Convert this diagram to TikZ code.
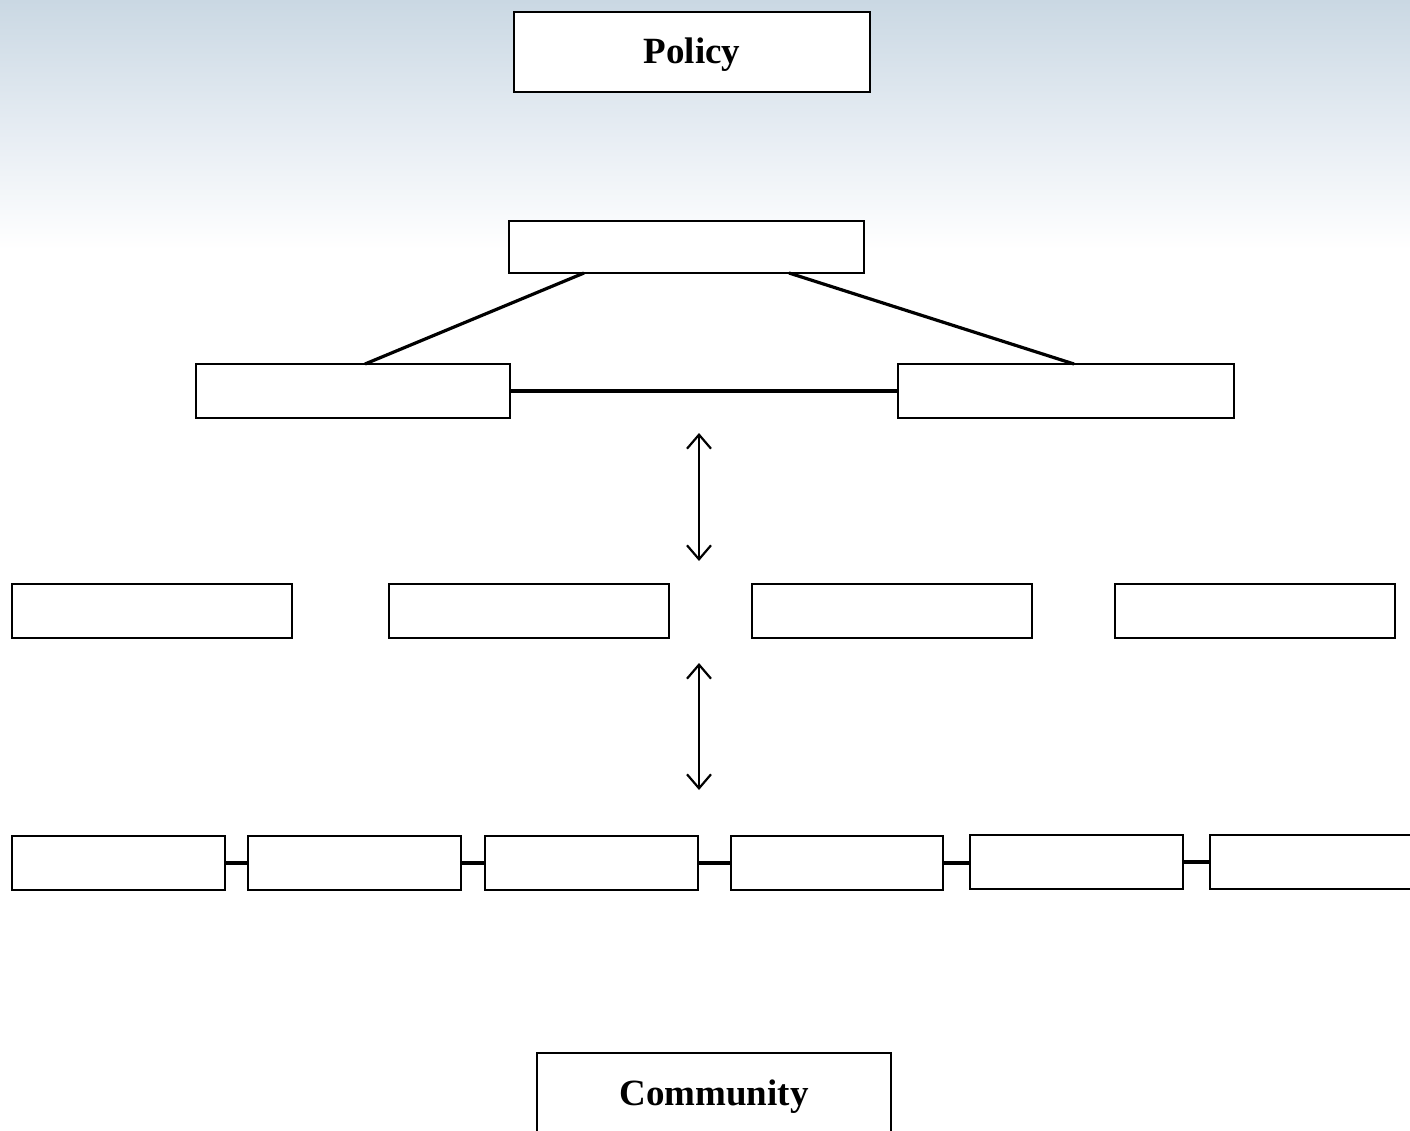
\documentclass[tikz,border=0pt]{standalone}
\usepackage{fontspec}
\setmainfont{Liberation Serif}
\usetikzlibrary{arrows.meta}
\definecolor{skyA}{RGB}{202,216,227}
\definecolor{skyB}{RGB}{228,235,242}
\begin{document}
\begin{tikzpicture}[x=1pt,y=-1pt,
  box/.style={draw=black, fill=white, line width=1.5pt, rectangle, inner sep=0pt},
  bigbox/.style={box, line width=2pt},
  label text/.style={inner sep=0pt, font=\bfseries\fontsize{37}{44}\selectfont},
  link/.style={line width=4pt},
  thin link/.style={line width=3.2pt},
  updown/.style={line width=2.2pt, {Straight Barb[length=14pt,width=24pt]}-{Straight Barb[length=14pt,width=24pt]}}]
\useasboundingbox (0,0) rectangle (1410,1131);
\clip (0,0) rectangle (1410,1131);
\fill[white] (0,0) rectangle (1410,1131);
\shade[top color=skyA, bottom color=skyB] (0,0) rectangle (1410,120);
\shade[top color=skyB, bottom color=white] (0,120) rectangle (1410,250);

% top
\node[bigbox, minimum width=356pt, minimum height=80pt] (policy) at (692,52) {};
\node[label text] (policytext) at (692,55) {Policy};
\node[box, minimum width=355pt, minimum height=52pt] (hub) at (686.5,247) {};
\node[box, minimum width=314pt, minimum height=54pt] (ml) at (353,391) {};
\node[box, minimum width=336pt, minimum height=54pt] (mr) at (1066,391) {};
\coordinate (hubL) at (584,273);
\coordinate (hubR) at (789,273);
\coordinate (mlT) at (365,364);
\coordinate (mrT) at (1074,364);
\draw[thin link] (hubL) -- (mlT);
\draw[thin link] (hubR) -- (mrT);
\draw[link] (ml.east) -- (mr.west);

% arrows
\coordinate (a1t) at (699,433);
\coordinate (a1b) at (699,561);
\coordinate (a2t) at (699,663);
\coordinate (a2b) at (699,790);
\draw[updown] (a1t) -- (a1b);
\draw[updown] (a2t) -- (a2b);

% row of four
\node[box, line width=2pt, minimum width=280pt, minimum height=54pt] (r1) at (152,611) {};
\node[box, line width=2pt, minimum width=280pt, minimum height=54pt] (r2) at (529,611) {};
\node[box, line width=2pt, minimum width=280pt, minimum height=54pt] (r3) at (892,611) {};
\node[box, line width=2pt, minimum width=280pt, minimum height=54pt] (r4) at (1255,611) {};

% bottom row
\node[box, minimum width=213pt, minimum height=54pt] (b1) at (118.5,863) {};
\node[box, minimum width=213pt, minimum height=54pt] (b2) at (354.5,863) {};
\node[box, minimum width=213pt, minimum height=54pt] (b3) at (591.5,863) {};
\node[box, minimum width=212pt, minimum height=54pt] (b4) at (837,863) {};
\node[box, minimum width=213pt, minimum height=54pt] (b5) at (1076.5,862) {};
\node[box, minimum width=213pt, minimum height=54pt] (b6) at (1316.5,862) {};
\draw[link] (b1.east) -- (b2.west);
\draw[link] (b2.east) -- (b3.west);
\draw[link] (b3.east) -- (b4.west);
\draw[link] (b4.east) -- (b4.east -| b5.west);
\draw[link] (b5.east) -- (b6.west);

% community
\node[box, line width=2pt, minimum width=354pt, minimum height=100pt] (comm) at (714,1103) {};
\node[label text] (commtext) at (714,1097) {Community};
\end{tikzpicture}
\end{document}
